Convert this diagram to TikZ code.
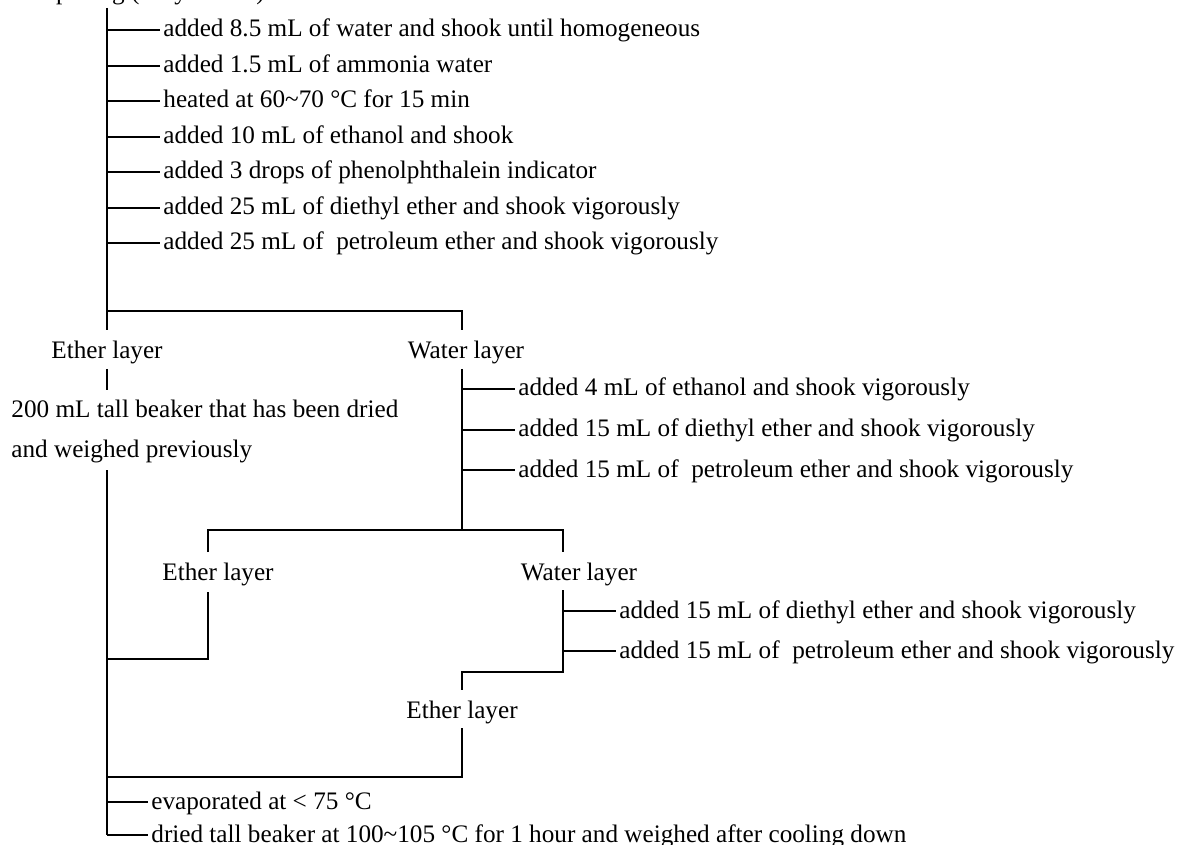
\documentclass[tikz,border=0pt]{standalone}
\usepackage{fontspec}
\setmainfont{Liberation Serif}
\begin{document}
\begin{tikzpicture}[x=0.5pt,y=-0.5pt,line width=1.4pt,
  txt/.style={inner xsep=1pt,inner ysep=0pt,anchor=west,text height=0.92em,text depth=0.22em,font=\fontsize{12.6}{15}\selectfont},
  lbl/.style={inner sep=0pt,anchor=base,font=\fontsize{12.6}{15}\selectfont},
  plain/.style={inner sep=0pt,anchor=base west,font=\fontsize{12.6}{15}\selectfont}]
\useasboundingbox (0,0) rectangle (1179,845);
\begin{scope}
\clip (0,0) rectangle (1179,845);
\node[plain] (title) at (10,0) {Sample 2 g (fully mixed)};
\end{scope}
% top trunk
\coordinate (T0) at (107,8);
\coordinate (T1) at (107,330);
\coordinate (S1a) at (107,311);
\coordinate (S1b) at (462,311);
\coordinate (S1c) at (462,330);
\draw (T0) -- (T1);
\draw (S1a) -- (S1b) -- (S1c);
\node[txt] (a1) at (160,30) {added 8.5 mL of water and shook until homogeneous};
\node[txt] (a2) at (160,66) {added 1.5 mL of ammonia water};
\node[txt] (a3) at (160,101) {heated at 60\char`~70 °C for 15 min};
\node[txt] (a4) at (160,137) {added 10 mL of ethanol and shook};
\node[txt] (a5) at (160,172) {added 3 drops of phenolphthalein indicator};
\node[txt] (a6) at (160,208) {added 25 mL of diethyl ether and shook vigorously};
\node[txt] (a7) at (160,243) {added 25 mL of \ petroleum ether and shook vigorously};
\foreach \n in {a1,a2,a3,a4,a5,a6,a7} \draw (\n.west -| T0) -- (\n.west);
% first separation
\node[lbl] (eth1) at (107,359) {Ether layer};
\node[lbl] (wat1) at (466,359) {Water layer};
\coordinate (E1a) at (107,369);
\coordinate (E1b) at (107,390);
\draw (E1a) -- (E1b);
\node[plain] (beak1) at (10,418) {200 mL tall beaker that has been dried};
\node[plain] (beak2) at (10,458) {and weighed previously};
\coordinate (T2) at (107,470);
\coordinate (T3) at (107,835);
\draw (T2) -- (T3);
% water layer 1
\coordinate (W1a) at (462,369);
\coordinate (W1b) at (462,530);
\draw (W1a) -- (W1b);
\node[txt] (b1) at (515,389) {added 4 mL of ethanol and shook vigorously};
\node[txt] (b2) at (515,430) {added 15 mL of diethyl ether and shook vigorously};
\node[txt] (b3) at (515,470) {added 15 mL of \ petroleum ether and shook vigorously};
\foreach \n in {b1,b2,b3} \draw (\n.west -| W1a) -- (\n.west);
% second separation
\coordinate (S2a) at (208,552);
\coordinate (S2b) at (208,530);
\coordinate (S2c) at (563,530);
\coordinate (S2d) at (563,552);
\draw (S2a) -- (S2b) -- (S2c) -- (S2d);
\node[lbl] (eth2) at (218,580) {Ether layer};
\node[lbl] (wat2) at (579,580) {Water layer};
\coordinate (E2a) at (208,592);
\coordinate (E2b) at (208,659);
\coordinate (E2c) at (107,659);
\draw (E2a) -- (E2b) -- (E2c);
% water layer 2
\coordinate (W2a) at (563,590);
\coordinate (W2b) at (563,672);
\coordinate (W2c) at (462,672);
\coordinate (W2d) at (462,690);
\draw (W2a) -- (W2b) -- (W2c) -- (W2d);
\node[txt] (c1) at (616,611) {added 15 mL of diethyl ether and shook vigorously};
\node[txt] (c2) at (616,651) {added 15 mL of \ petroleum ether and shook vigorously};
\foreach \n in {c1,c2} \draw (\n.west -| W2a) -- (\n.west);
% third ether layer
\node[lbl] (eth3) at (462,718) {Ether layer};
\coordinate (E3a) at (462,728);
\coordinate (E3b) at (462,777);
\coordinate (E3c) at (107,777);
\draw (E3a) -- (E3b) -- (E3c);
% final steps
\node[txt] (d1) at (148,802) {evaporated at < 75 °C};
\node[txt] (d2) at (148,835) {dried tall beaker at 100\char`~105 °C for 1 hour and weighed after cooling down};
\foreach \n in {d1,d2} \draw (\n.west -| T3) -- (\n.west);
\end{tikzpicture}
\end{document}
